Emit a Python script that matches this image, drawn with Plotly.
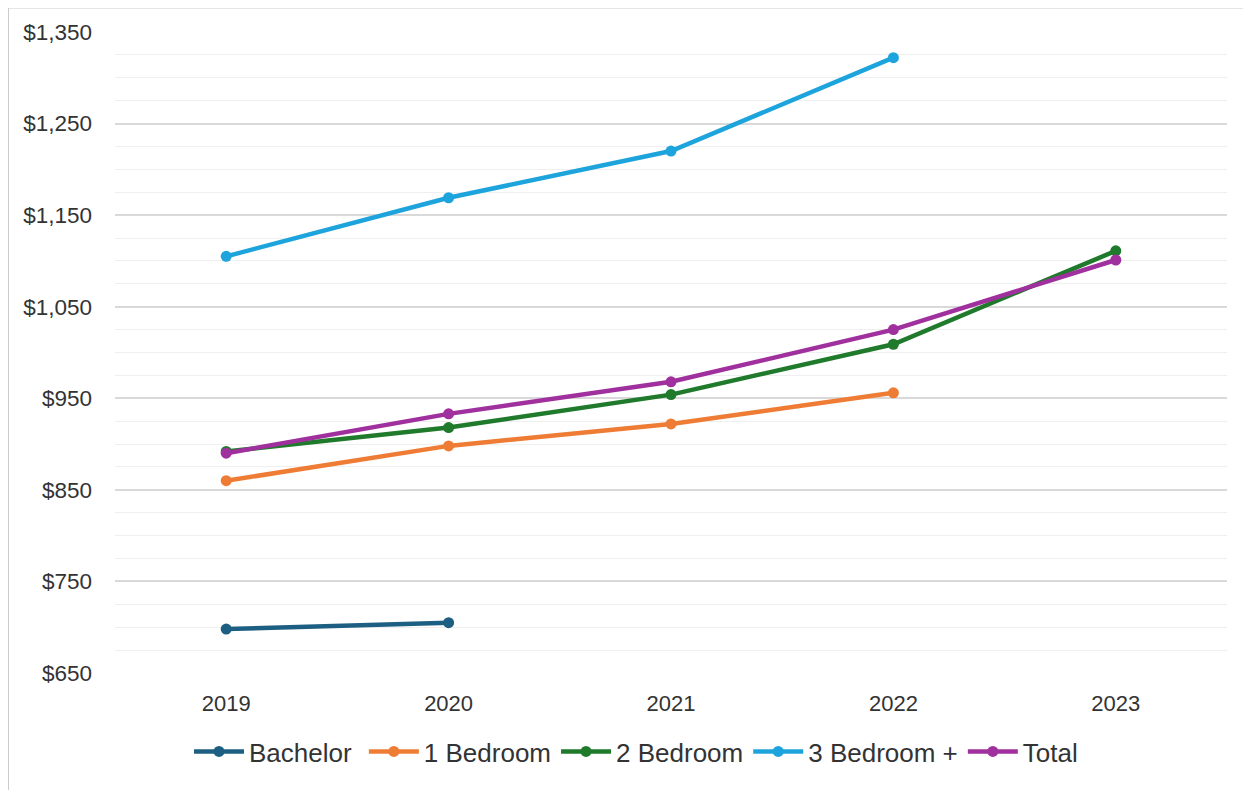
import plotly.graph_objects as go

years = ["2019", "2020", "2021", "2022", "2023"]
bachelor = [698, 705, None, None, None]
one_bed = [860, 898, 922, 956, None]
two_bed = [892, 918, 954, 1009, 1111]
three_bed = [1105, 1169, 1220, 1322, None]
total = [890, 933, 968, 1025, 1101]

series = [
    ("Bachelor", bachelor, "#1c5f82"),
    ("1 Bedroom", one_bed, "#ef7c35"),
    ("2 Bedroom", two_bed, "#1f7a2b"),
    ("3 Bedroom +", three_bed, "#1ea4dc"),
    ("Total", total, "#a0309e"),
]

NB = "\u00a0"
fig = go.Figure()
for i, (name, vals, col) in enumerate(series):
    fig.add_trace(go.Scatter(
        x=years, y=vals, name=name + (NB if i == 0 else ""), mode="lines+markers",
        line=dict(color=col, width=4.5),
        marker=dict(color=col, size=11),
        connectgaps=False,
    ))

font_family = "Liberation Sans, Arial, sans-serif"
L, T = 107, 24
PW, PH = 1112, 641
fig.update_layout(
    width=1251, height=790,
    margin=dict(l=L, r=1251 - L - PW, t=T, b=790 - T - PH),
    paper_bgcolor="white", plot_bgcolor="white",
    font=dict(family=font_family, color="#333333"),
    showlegend=True,
    legend=dict(orientation="h", x=(181 - L) / PW, xanchor="left",
                y=-(720 - T - PH) / PH, yanchor="top",
                font=dict(size=26, color="#333333"), itemwidth=50, tracegroupgap=0),
    xaxis=dict(type="category", range=[-0.5, 4.5], showgrid=False, zeroline=False,
               showline=False, tickfont=dict(size=22, color="#333333"),
               ticks="", ticklabelstandoff=15),
    yaxis=dict(range=[650, 1350], tick0=650, dtick=100, tickprefix="$", tickformat=",",
               showgrid=True, gridcolor="#d9d9d9", gridwidth=1.5, zeroline=False,
               showline=False, tickfont=dict(size=22.5, color="#333333"),
               ticks="", ticklabelstandoff=22,
               minor=dict(dtick=25, tick0=650, showgrid=True, gridcolor="#efefef", gridwidth=1)),
    shapes=[dict(type="rect", xref="paper", yref="paper",
                 x0=(0 - L) / PW, x1=1.1, y0=-0.3, y1=1 + (T + 0.5) / PH,
                 line=dict(color="#cccccc", width=2), fillcolor="rgba(0,0,0,0)", layer="below")],
)

fig.write_html("out.html")
